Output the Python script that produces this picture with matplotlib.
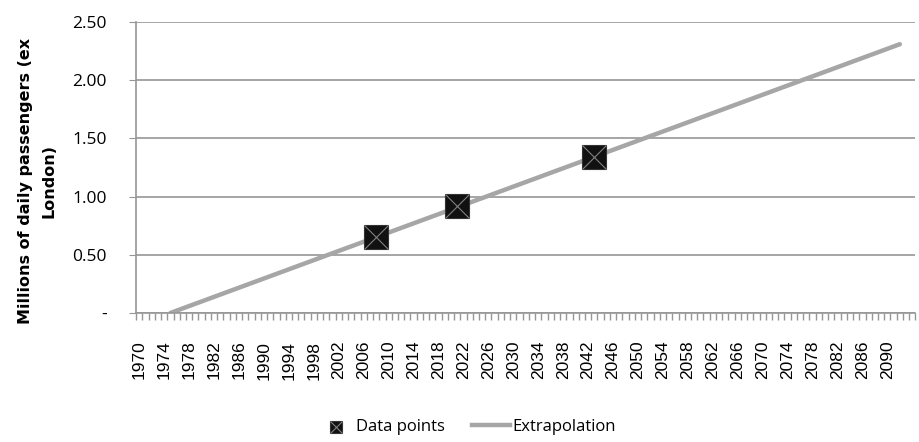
import matplotlib.pyplot as plt
import numpy as np

# category axis: one slot per year
years = list(range(1970, 2095))
label_years = list(range(1970, 2091, 4))

# observed data points
point_years = [2008, 2021, 2043]
point_values = [0.65, 0.92, 1.34]

# straight-line extrapolation
ext_years = [1975, 2092]
ext_values = [0.0, 2.31]

y_ticks = [0, 0.5, 1.0, 1.5, 2.0, 2.5]
y_labels = ['-', '0.50', '1.00', '1.50', '2.00', '2.50']

grey = '#a6a6a6'
axis_grey = '#969696'

fig = plt.figure(figsize=(9.2, 4.42), dpi=100)
ax = fig.add_axes([0.148, 0.292, 0.847, 0.658])

ax.plot(ext_years, ext_values, color=grey, lw=3.2, solid_capstyle='round', zorder=2)
sq = ax.scatter(point_years, point_values, marker='s', s=300, c='#111111',
                edgecolors='#333333', linewidths=0.8, zorder=3)
xx = ax.scatter(point_years, point_values, marker='x', s=300, c='#808080',
                linewidths=0.8, zorder=4)

ax.set_xlim(years[0] - 0.5, years[-1] + 0.5)
ax.set_ylim(0, 2.5)

# y axis
ax.set_yticks(y_ticks)
ax.set_yticklabels(y_labels, fontsize=12.5, family='Open Sans')
ax.yaxis.grid(True, color=axis_grey, lw=1.2)
ax.set_axisbelow(True)
ax.tick_params(axis='y', length=5, color=axis_grey, pad=16)

# x axis: labels every 4 years, tick marks at category boundaries
ax.set_xticks(label_years)
ax.set_xticklabels([str(y) for y in label_years], rotation=90, fontsize=12.5,
                   family='Liberation Sans')
ax.tick_params(axis='x', length=0, pad=20)
ax.set_xticks(np.arange(years[0] - 0.5, years[-1] + 1), minor=True)
ax.tick_params(axis='x', which='minor', length=5, color=axis_grey, width=1)

for s in ['top', 'right']:
    ax.spines[s].set_visible(False)
for s in ['left', 'bottom']:
    ax.spines[s].set_color(axis_grey)
    ax.spines[s].set_linewidth(1.2)

ax.set_ylabel('Millions of daily passengers (ex\nLondon)', fontsize=11.5,
              fontweight='bold', linespacing=1.75)
ax.yaxis.set_label_coords(-0.102, 0.455)

line_h, = ax.plot([], [], color=grey, lw=3.2)
fig.legend([(sq, xx), line_h], ['Data points', 'Extrapolation'],
           loc='center', bbox_to_anchor=(466 / 920, 1 - 427 / 442), ncol=2,
           frameon=False, prop={'family': 'Open Sans', 'size': 12},
           handlelength=2.3, handletextpad=0.1, columnspacing=1.6,
           markerscale=0.5)

fig.savefig('out.png', dpi=100)
